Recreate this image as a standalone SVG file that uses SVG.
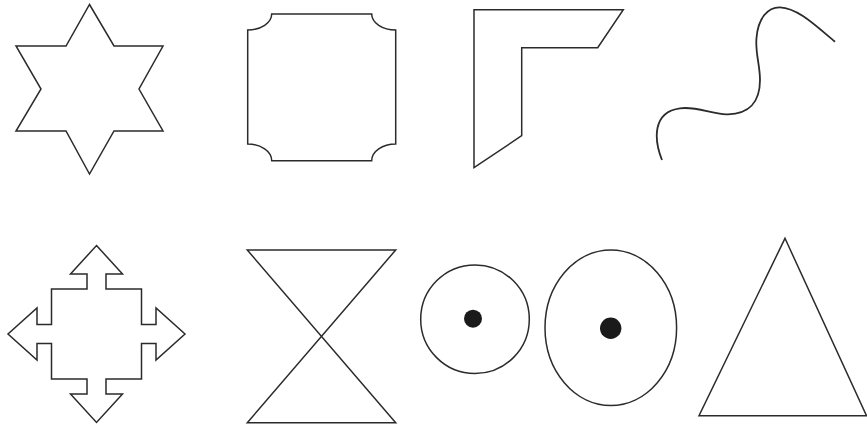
<svg xmlns="http://www.w3.org/2000/svg" width="867" height="430" viewBox="0 0 867 430">
<style>
.s{fill:none;stroke:#2b2b2b;stroke-width:1.5;stroke-linejoin:miter}
.w{fill:none;stroke:#2b2b2b;stroke-width:1.8;stroke-linecap:butt}
.d{fill:#1a1a1a;stroke:none}
</style>
<rect width="867" height="430" fill="#fff"/>
<g id="star"><polygon class="s" points="89.5,4.5 114,46 163,46 139,89 163,131 114,131 89.5,174 66,131 16,131 41,89 16,46 66,46"/></g>
<g id="square"><path class="s" d="M271.7,14 H371.7 A24,16 0 0 0 395.7,30 V144 A24,16.7 0 0 0 371.7,160.7 H271.7 A24,16.7 0 0 0 247.7,144 V30 A24,16 0 0 0 271.7,14 Z"/></g>
<g id="lshape"><polygon class="s" points="474,9.7 623.3,9.7 597.7,47.7 521.7,47.7 521.7,135.7 474,167.7"/></g>
<g id="wave"><path class="w" d="M662,160 C654,140 652,112 680,108.3 C698,106 712,115 728,114.3 C748,114 760,103 760,80 C760,65 755,52 756.5,38 C758,18 768,7 780,7.3 C798,8 816,26 835,41.7"/></g>
<g id="arrows"><polygon class="s" points="96.5,245.5 122.5,274 106,274 106,289 141.5,289 141.5,324.5 156,324.5 156,308 185,334 156,360 156,343.5 141.5,343.5 141.5,379 106,379 106,394 122.5,394 96.5,422.5 70.5,394 87,394 87,379 51.5,379 51.5,343.5 37,343.5 37,360 8,334 37,308 37,324.5 51.5,324.5 51.5,289 87,289 87,274 70.5,274"/></g>
<g id="hourglass"><polygon class="s" points="247.3,250 395.7,250 247.3,422.7 395.7,422.7"/></g>
<g id="circle"><circle class="s" cx="475" cy="319.2" r="54.3"/><circle class="d" cx="473" cy="318.7" r="9"/></g>
<g id="ellipse"><ellipse class="s" cx="610.8" cy="327.8" rx="65.8" ry="77.8"/><circle class="d" cx="610.7" cy="328.3" r="10.7"/></g>
<g id="triangle"><polygon class="s" points="785,238.3 866.5,415.7 699,415.7"/></g>
</svg>
